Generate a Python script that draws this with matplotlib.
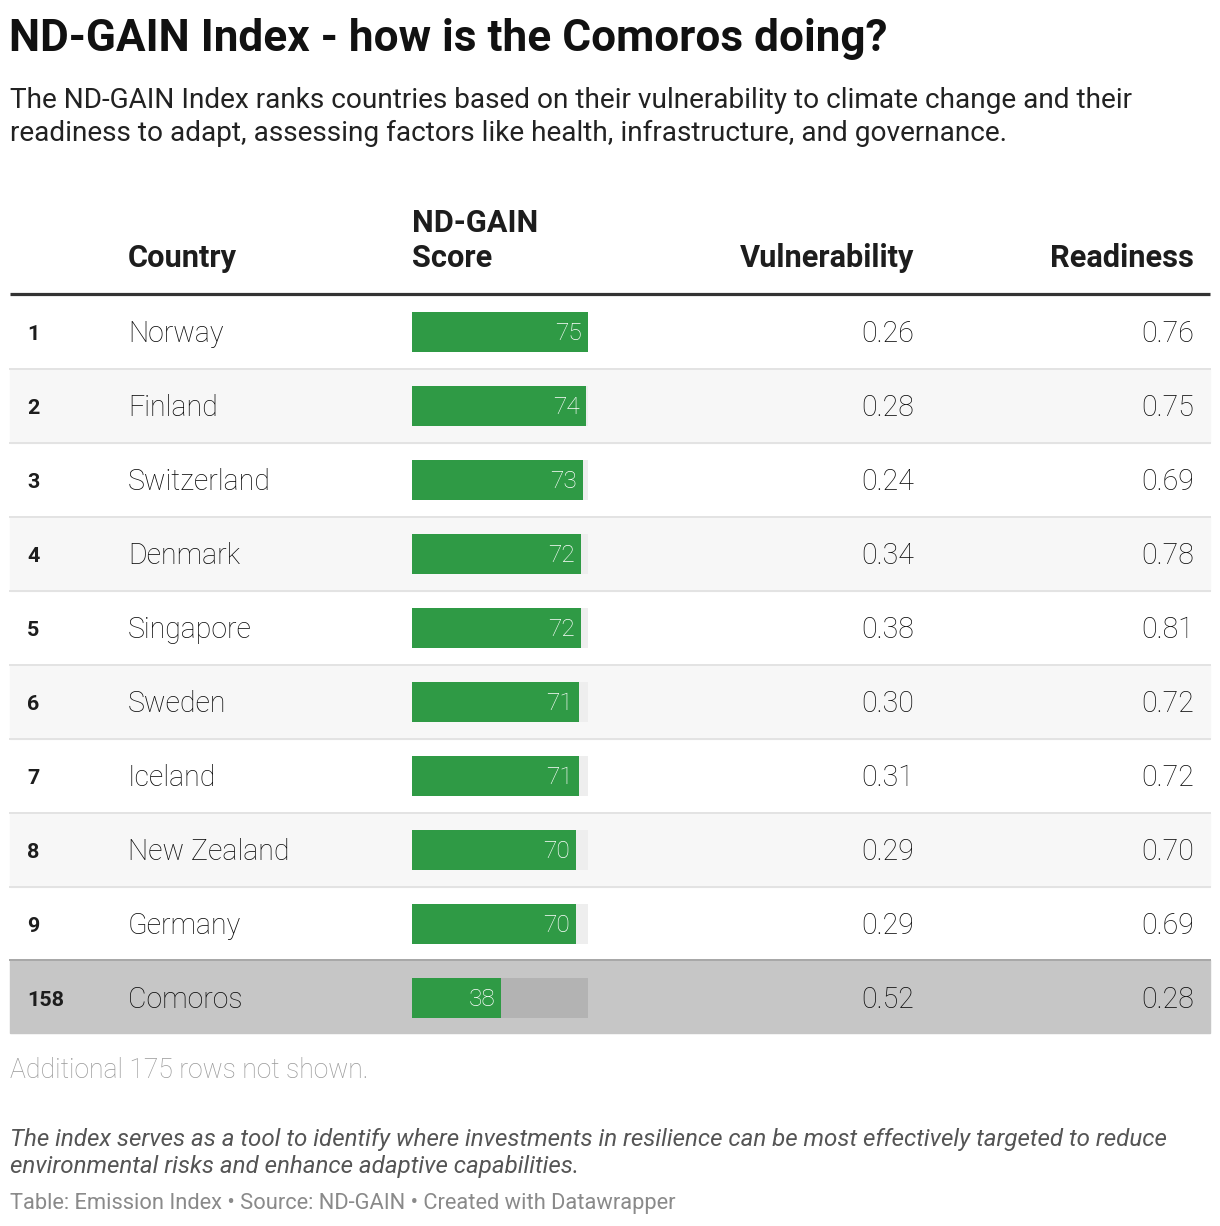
import matplotlib
matplotlib.use("Agg")
import matplotlib.pyplot as plt
from matplotlib.patches import Rectangle

ranks = ["1", "2", "3", "4", "5", "6", "7", "8", "9", "158"]
countries = ["Norway", "Finland", "Switzerland", "Denmark", "Singapore", "Sweden",
             "Iceland", "New Zealand", "Germany", "Comoros"]
scores = [75, 74, 73, 72, 72, 71, 71, 70, 70, 38]
vulnerability = [0.26, 0.28, 0.24, 0.34, 0.38, 0.30, 0.31, 0.29, 0.29, 0.52]
readiness = [0.76, 0.75, 0.69, 0.78, 0.81, 0.72, 0.72, 0.70, 0.69, 0.28]
highlight = "Comoros"
score_max = 75

W, H = 1220, 1226
fig = plt.figure(figsize=(W / 100, H / 100), dpi=100)
fig.patch.set_facecolor("white")
ax = fig.add_axes([0, 0, 1, 1])
ax.set_xlim(0, W)
ax.set_ylim(H, 0)
ax.axis("off")

FONT = "Roboto"
GREEN = "#2f9a45"
TXT = "#0a0a0a"

def px(v):
    return v * 72 / 100

# Title & subtitle
ax.text(9, 51, "ND-GAIN Index - how is the Comoros doing?", family=FONT,
        fontweight="bold", fontsize=px(44.1), color="#111111", va="baseline")
ax.text(10, 108, "The ND-GAIN Index ranks countries based on their vulnerability to climate change and their",
        family=FONT, fontsize=px(28.0), color="#222222", va="baseline")
ax.text(10, 141, "readiness to adapt, assessing factors like health, infrastructure, and governance.",
        family=FONT, fontsize=px(28.0), color="#222222", va="baseline")

# Headers
hkw = dict(family=FONT, fontweight="bold", fontsize=px(30.8), color="#1d1d1d", va="baseline")
ax.text(128, 267, "Country", **hkw)
ax.text(412, 232, "ND-GAIN", **hkw)
ax.text(412, 267, "Score", **hkw)
ax.text(914, 267, "Vulnerability", ha="right", **hkw)
ax.text(1194, 267, "Readiness", ha="right", **hkw)
ax.plot([10, 1210], [294, 294], color="#333333", lw=3.2 * 0.72, solid_capstyle="butt")

row_top0 = 295
row_h = 74
centers = []
for i, c in enumerate(countries):
    top = row_top0 + i * row_h
    cy = top + row_h / 2 - 0.5
    centers.append(cy)
    if c == highlight:
        ax.add_patch(Rectangle((10, top - 1), 1200, row_h - 1, color="#c6c6c6", zorder=0))
        ax.plot([10, 1210], [top - 1, top - 1], color="#a8a8a8", lw=2 * 0.72, zorder=1)
    elif i % 2 == 1:
        ax.add_patch(Rectangle((10, top), 1200, row_h, color="#f7f7f7", zorder=0))
    if i < len(countries) - 1 and countries[i + 1] != highlight:
        ax.plot([10, 1210], [top + row_h, top + row_h], color="#e3e3e3", lw=2 * 0.72, zorder=1)
    ax.text(27, cy + 8, ranks[i], family=FONT, fontweight="bold", fontsize=px(21.5),
            color="#1d1d1d", va="baseline")
    ax.text(128, cy + 11, c, family=FONT, fontweight="light", fontsize=px(28.5),
            color=TXT, va="baseline")
    ax.text(914, cy + 11, f"{vulnerability[i]:.2f}", family=FONT, fontweight="light",
            fontsize=px(28.5), color=TXT, va="baseline", ha="right")
    ax.text(1194, cy + 11, f"{readiness[i]:.2f}", family=FONT, fontweight="light",
            fontsize=px(28.5), color=TXT, va="baseline", ha="right")

# Bars column
bx = fig.add_axes([412 / W, 0, 176 / W, 1])
bx.set_xlim(0, score_max)
bx.set_ylim(H, 0)
bx.axis("off")
bx.patch.set_alpha(0)
track_colors = ["#b3b3b3" if c == highlight else "#eeeeee" for c in countries]
bx.barh(centers, [score_max] * len(scores), height=40, color=track_colors, zorder=1)
bx.barh(centers, scores, height=40, color=GREEN, zorder=2)
for cy, s in zip(centers, scores):
    bx.annotate(str(s), (s, cy + 8), xytext=(-6, 0), textcoords="offset pixels",
                ha="right", va="baseline", family=FONT, fontweight="light",
                fontsize=px(24.5), color="white", zorder=3)

# Notes
ax.text(10, 1078, "Additional 175 rows not shown.", family=FONT, fontweight="light",
        fontsize=px(26.5), color="#999999", va="baseline")
ax.text(10, 1146, "The index serves as a tool to identify where investments in resilience can be most effectively targeted to reduce",
        family=FONT, style="italic", fontsize=px(24.1), color="#555555", va="baseline")
ax.text(10, 1173, "environmental risks and enhance adaptive capabilities.",
        family=FONT, style="italic", fontsize=px(24.1), color="#555555", va="baseline")
ax.text(10, 1209, "Table: Emission Index \u2022 Source: ND-GAIN \u2022 Created with Datawrapper",
        family=FONT, fontsize=px(21.9), color="#8a8a8a", va="baseline")

fig.savefig("out.png", dpi=100, facecolor="white")
